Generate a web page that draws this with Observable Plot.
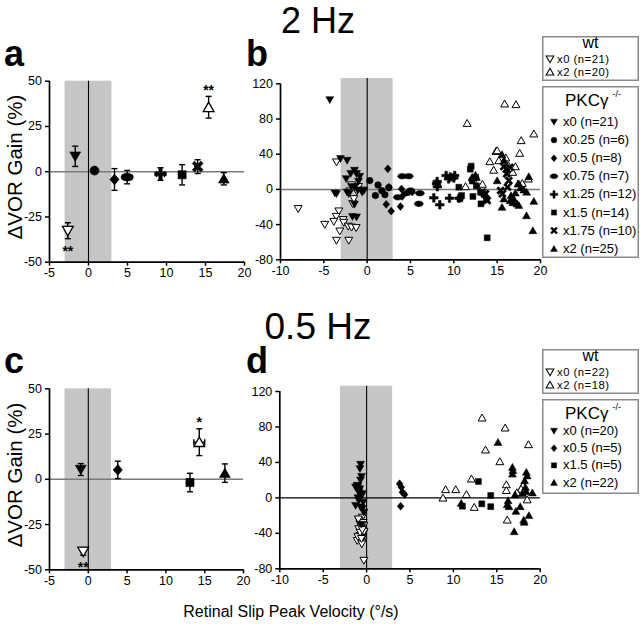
<!DOCTYPE html>
<html><head><meta charset="utf-8">
<script src="https://cdn.jsdelivr.net/npm/d3@7"></script>
<script src="https://cdn.jsdelivr.net/npm/@observablehq/plot@0.6"></script>
<style>
body{margin:0;background:#fff;}
#fig{position:relative;width:640px;height:628px;overflow:hidden;background:#fff;font-family:"Liberation Sans",Arial,Helvetica,sans-serif;}
</style></head>
<body><div id="fig"></div>
<script>
// ---------- DATA ----------
const bandX = [-3, 3];
const xTicksAC = [-5, 0, 5, 10, 15, 20];
const yTicksAC = [-50, -25, 0, 25, 50];
const xTicksBD = [-10, -5, 0, 5, 10, 15, 20];
const yTicksBD = [-80, -40, 0, 40, 80, 120];

// panel a (2 Hz, means ± SEM)
const aSeries = ["wt x0","PKC x0","PKC x0.25","PKC x0.5","PKC x0.75","PKC x1.25","PKC x1.5","PKC x1.75","wt x2","PKC x2"];
const aVel    = [-2.65, -1.7, 0.77, 3.33, 4.96, 9.23, 12.0, 14.0, 15.4, 17.35];
const aVelSem = [0.3, 0.3, 0.3, 0.3, 0.6, 0.5, 0.3, 0.4, 0.3, 0.3];
const aGain   = [-32.6, 8.5, 0.6, -4.3, -3.0, -1.3, -1.7, 2.8, 35.6, -3.9];
const aSem    = [4.4, 5.6, 1.5, 6.0, 3.7, 3.5, 5.6, 3.8, 6.0, 3.4];
const aStars  = [["wt x0","**"],["wt x2","**"]];

// panel c (0.5 Hz, means ± SEM)
const cSeries = ["wt x0","PKC x0","PKC x0.5","PKC x1.5","wt x2","PKC x2"];
const cVel    = [-0.66, -0.97, 3.8, 13.1, 14.3, 17.6];
const cVelSem = [0.3, 0.3, 0.3, 0.3, 0.7, 0.3];
const cGain   = [-39.9, 5.4, 5.2, -1.8, 20.5, 3.4];
const cSem    = [2.0, 3.3, 4.8, 5.1, 7.4, 5.1];
const cStars  = [["wt x0","**"],["wt x2","*"]];

// panel b (2 Hz, individual animals) [velocity, gain]
const b_wt_x0 = [[-7.96,-22],[-3.54,31],[-3.27,-24.7],[-3.57,-30.8],[-2.77,-34.5],[-3.85,-36.5],[-4.89,-39.9],[-2.7,-37.6],[-3.16,-47.5],[-3.54,-58],[-2.12,-58],[-2.19,-42],[-1.8,-43],[-1.27,-43.6],[-1.66,-16.4],[-1.54,-10.7],[-1.2,-2],[-2.0,-2],[-1.0,3],[-0.5,-1],[-1.8,5]];
const b_wt_x2 = [[15.86,97.3],[17.17,96.5],[11.54,75.2],[19.23,63.2],[17.77,55.6],[17.6,41.2],[14.87,43.4],[14.15,31.7],[15.19,32.8],[17.1,26],[16.8,19.6],[11.35,3.3],[15.0,44.2],[16.3,27],[18.6,12],[17.9,7],[12.3,10],[16.0,36],[14.6,22],[13.3,6]];
const b_pkc_x0 = [[-4.31,101.8],[-3.08,34.8],[-2.31,32.9],[-3.73,-4.2],[-3.54,-5],[-2.42,12],[-1.46,21.5],[-1.23,17.8],[-0.85,14.7],[-1.9,18],[-1.42,2.6],[-1.1,-1],[-2.12,-5],[-0.58,-3.3],[-0.38,-1.4],[-1.23,-31.5],[-1.7,-31],[-1.46,-17],[-2.31,-3.3],[-1.81,3],[-1.0,9]];
const b_pkc_x025 = [[0.3,10],[1.25,5],[0.95,-7],[1.7,-1.5],[2.05,-6],[2.5,2]];
const b_pkc_x05 = [[2.38,23.4],[2.2,-17],[2.77,-24.7],[3.96,0.5],[3.84,-19.4],[4.04,-8],[2.5,2.5],[5.2,-3]];
const b_pkc_x075 = [[4.04,15],[4.8,15],[5.96,-16.4],[5.0,-1.3],[6.08,-4.3],[3.54,-8.9],[4.54,-4.3]];
const b_pkc_x125 = [[7.69,-9.6],[8.38,-17.5],[9.5,-10],[8.0,6.4],[8.08,9],[9.11,15.8],[9.6,14],[10.1,15.8],[9.4,12],[10.6,-10],[8.1,3],[10.0,13]];
const b_pkc_x15 = [[12.0,26.4],[11.9,23],[10.58,2.5],[10.7,-10.7],[12.12,10],[12.2,-8],[13.08,-3.2],[13.13,-16.4],[13.77,-11.5],[13.85,-55],[12.5,13.9],[13.5,-6],[10.9,-7],[12.6,4]];
const b_pkc_x175 = [[13.65,-5],[13.85,-12.6],[15.4,-1.3],[16.1,17.7],[16.35,10],[16.2,2.6],[15.6,-5],[16.46,25],[15.77,26],[13.3,-3]];
const b_pkc_x2 = [[15.56,39.6],[15.0,10],[15.56,-20.2],[15.77,-10.7],[16.6,-7],[16.5,-12.7],[16.92,-10.7],[17.1,-4],[17.3,-16.4],[17.5,6.4],[17.5,-18],[17.4,6.4],[18.08,-0.5],[18.38,-29.7],[18.65,14.6],[18.4,-3],[19.23,-13.4],[19.12,-46.7],[16.1,23],[17.7,1.9],[12.1,13.7],[12.6,13.7],[12.5,16.3],[15.8,33],[16.8,-15]];

// panel d (0.5 Hz, individual animals)
const d_wt_x0 = [[-0.31,-70.6],[-0.5,-22],[-0.77,-29.2],[-0.31,-31],[-0.62,-37],[-0.77,-42.6],[-1.08,-48.2],[-0.5,-50],[-0.38,-40.7],[-0.6,-33],[-0.45,-45],[-0.9,-35],[-0.7,-48],[-0.3,-38],[-0.85,-26],[-0.55,-52],[-1.0,-44],[-0.4,-28],[-0.75,-39],[-0.6,-46],[-0.95,-24],[-0.5,-36]];
const d_wt_x2 = [[13.3,90.3],[15.96,79],[13.7,54.2],[18.65,60.2],[15.35,41],[12.08,21.5],[9.1,9.5],[10.27,9.5],[8.8,0],[12.4,-10.5],[16.1,15],[16.1,8.5],[16.2,-24.8],[18.0,13.8],[17.8,10],[17.3,6],[11.5,4],[18.5,-2]];
const d_pkc_x0 = [[-0.69,37.7],[-0.77,32.8],[-0.58,24],[-1.27,12],[-1.0,12.8],[-0.8,10],[-0.5,4.6],[-0.88,5.8],[-1.27,-8.7],[-0.69,-10.6],[-0.31,-16.3],[-0.9,8],[-1.1,14],[-0.6,2],[-0.4,-5],[-1.0,0],[-0.7,20],[-0.5,-12],[-0.9,-3],[-0.6,-30]];
const d_pkc_x05 = [[3.8,15.9],[4.0,12],[4.12,6.4],[4.38,3.8],[3.92,-9.4]];
const d_pkc_x15 = [[12.88,18.5],[14.3,2.7],[13.27,-6.7],[14.3,-9.9],[11.04,-9.4]];
const d_pkc_x2 = [[15.14,62.8],[16.8,34.6],[16.85,31],[16.8,27],[18.4,29],[18.5,25],[18.2,19.6],[18.3,12],[18.4,7],[19.1,5.8],[17.96,5],[17.1,3.5],[16.3,-3],[16.2,-7.5],[16.4,-9.7],[17.7,-9.7],[17.2,-15],[18.7,-19.8],[18.15,-27.4],[18.1,-25],[17.0,-37.9],[10.9,-6]];

// legends
const legB_wt  = [["wt x0","x0 (n=21)"],["wt x2","x2 (n=20)"]];
const legB_pkc = [["PKC x0","x0 (n=21)"],["PKC x0.25","x0.25 (n=6)"],["PKC x0.5","x0.5 (n=8)"],["PKC x0.75","x0.75 (n=7)"],["PKC x1.25","x1.25 (n=12)"],["PKC x1.5","x1.5 (n=14)"],["PKC x1.75","x1.75 (n=10)"],["PKC x2","x2 (n=25)"]];
const legD_wt  = [["wt x0","x0 (n=22)"],["wt x2","x2 (n=18)"]];
const legD_pkc = [["PKC x0","x0 (n=20)"],["PKC x0.5","x0.5 (n=5)"],["PKC x1.5","x1.5 (n=5)"],["PKC x2","x2 (n=22)"]];

// ---------- SYMBOLS ----------
const rOf = s => Math.sqrt(s / Math.PI);
function poly(c, pts){ c.moveTo(pts[0][0], pts[0][1]); for (const p of pts.slice(1)) c.lineTo(p[0], p[1]); c.closePath(); }
const triDown = {draw(c,s){const r=rOf(s)*1.2; poly(c,[[-r,-r*0.8],[r,-r*0.8],[0,r*0.95]]);}};
const triUp   = {draw(c,s){const r=rOf(s)*1.2; poly(c,[[-r,r*0.8],[r,r*0.8],[0,-r*0.95]]);}};
const circ    = {draw(c,s){const r=rOf(s); c.moveTo(r,0); c.arc(0,0,r,0,2*Math.PI);}};
const sq      = {draw(c,s){const r=rOf(s)*0.9; c.rect(-r,-r,2*r,2*r);}};
const dia     = {draw(c,s){const r=rOf(s)*1.2; poly(c,[[0,-r],[r*0.85,0],[0,r],[-r*0.85,0]]);}};
const ell     = {draw(c,s){const r=rOf(s), a=r*1.35, b=r*0.85, k=0.5523;
  c.moveTo(a,0); c.bezierCurveTo(a,b*k,a*k,b,0,b); c.bezierCurveTo(-a*k,b,-a,b*k,-a,0);
  c.bezierCurveTo(-a,-b*k,-a*k,-b,0,-b); c.bezierCurveTo(a*k,-b,a,-b*k,a,0); c.closePath();}};
function crossPts(L,t,rot){ const pts=[[t,-L],[t,-t],[L,-t],[L,t],[t,t],[t,L],[-t,L],[-t,t],[-L,t],[-L,-t],[-t,-t],[-t,-L]];
  const cs=Math.cos(rot), sn=Math.sin(rot); return pts.map(([x,y])=>[x*cs-y*sn, x*sn+y*cs]); }
const plusS  = {draw(c,s){const r=rOf(s); poly(c, crossPts(r*1.3, r*0.38, 0));}};
const timesS = {draw(c,s){const r=rOf(s); poly(c, crossPts(r*1.35, r*0.36, Math.PI/4));}};
const capH = {draw(c,s){const r=rOf(s); c.moveTo(-r,0); c.lineTo(r,0);}};
const capV = {draw(c,s){const r=rOf(s); c.moveTo(0,-r); c.lineTo(0,r);}};

const S = {
  "wt x0": {sym: triDown, fill: "white", open: true},
  "wt x2": {sym: triUp, fill: "white", open: true},
  "PKC x0": {sym: triDown, fill: "black"},
  "PKC x0.25": {sym: circ, fill: "black"},
  "PKC x0.5": {sym: dia, fill: "black"},
  "PKC x0.75": {sym: ell, fill: "black"},
  "PKC x1.25": {sym: plusS, fill: "black"},
  "PKC x1.5": {sym: sq, fill: "black"},
  "PKC x1.75": {sym: timesS, fill: "black"},
  "PKC x2": {sym: triUp, fill: "black"}
};

// ---------- HELPERS ----------
const FONT = '"Liberation Sans", Arial, Helvetica, sans-serif';
const TICK_FS = 12.5;
const fig = document.getElementById("fig");
function place(el, left, top){ el.style.position="absolute"; el.style.left=left+"px"; el.style.top=top+"px"; fig.appendChild(el); }

function frameMarks({xDom, yDom, xTicks, yTicks, bandTop, zeroColor, zeroWidth}){
  return [
    Plot.rect([bandX], {x1: d=>d[0], x2: d=>d[1], y1: yDom[0], y2: bandTop, fill: "#c6c6c6"}),
    Plot.ruleY([0], {stroke: zeroColor, strokeWidth: zeroWidth}),
    Plot.ruleX([0], {y1: yDom[0], y2: bandTop, stroke: "black", strokeWidth: 1.1}),
    Plot.ruleX([xDom[0]], {y1: yDom[0], y2: yDom[1], stroke: "black", strokeWidth: 1.7}),
    Plot.ruleY([yDom[0]], {x1: xDom[0], x2: xDom[1], stroke: "black", strokeWidth: 1.7}),
    Plot.axisX({ticks: xTicks, tickSize: 4, tickPadding: 2, tickFormat: d=>String(d), label: null, strokeWidth: 1.5, fill: "black", fontSize: TICK_FS}),
    Plot.axisY({ticks: yTicks, tickSize: 4, tickPadding: 3.5, tickFormat: d=>String(d), label: null, strokeWidth: 1.5, fill: "black", fontSize: TICK_FS})
  ];
}

function meanMarks(series, vel, velSem, gain, sem, stars){
  const rows = series.map((s,i)=>({s, v: vel[i], ve: velSem[i], g: gain[i], e: sem[i]}));
  const marks = [
    Plot.ruleX(rows, {x: "v", y1: d=>d.g-d.e, y2: d=>d.g+d.e, stroke: "black", strokeWidth: 1.4}),
    Plot.ruleY(rows, {y: "g", x1: d=>d.v-d.ve, x2: d=>d.v+d.ve, stroke: "black", strokeWidth: 1.4}),
    Plot.dot(rows, {x: "v", y: d=>d.g+d.e, symbol: capH, r: 3, fill: "none", stroke: "black", strokeWidth: 1.4}),
    Plot.dot(rows, {x: "v", y: d=>d.g-d.e, symbol: capH, r: 3, fill: "none", stroke: "black", strokeWidth: 1.4}),
    Plot.dot(rows.filter(d=>d.ve>=0.5), {x: d=>d.v+d.ve, y: "g", symbol: capV, r: 3, fill: "none", stroke: "black", strokeWidth: 1.4}),
    Plot.dot(rows.filter(d=>d.ve>=0.5), {x: d=>d.v-d.ve, y: "g", symbol: capV, r: 3, fill: "none", stroke: "black", strokeWidth: 1.4})
  ];
  for (const key of series){
    const st = S[key];
    marks.push(Plot.dot(rows.filter(d=>d.s===key), {x: "v", y: "g", symbol: st.sym, r: 4.5, fill: st.fill, stroke: "black", strokeWidth: st.open ? 1.3 : 0.6}));
  }
  const starRows = stars.map(([k,t])=>({...rows.find(d=>d.s===k), t}));
  marks.push(Plot.text(starRows.filter(d=>d.g<0), {x: "v", y: d=>d.g-d.e, text: "t", dy: 12.5, fontSize: 14, fontWeight: "bold", fill: "black"}));
  marks.push(Plot.text(starRows.filter(d=>d.g>=0), {x: "v", y: d=>d.g+d.e, text: "t", dy: -6, fontSize: 14, fontWeight: "bold", fill: "black"}));
  return marks;
}

function scatterMarks(list){
  return list.map(([pts,key])=>{ const st=S[key];
    return Plot.dot(pts, {x: d=>d[0], y: d=>d[1], symbol: st.sym, r: 3.3, fill: st.fill, stroke: "black", strokeWidth: st.open ? 1 : 0.5}); });
}

const plotStyle = {fontFamily: FONT, fontSize: TICK_FS + "px", background: "transparent", overflow: "visible", color: "black"};

// ---------- PANEL A ----------
const domAC = {x: [-5, 20], y: [-50, 50]};
const pa = Plot.plot({
  width: 250, height: 230, marginLeft: 49, marginRight: 6, marginTop: 20.7, marginBottom: 28.3,
  style: plotStyle,
  x: {domain: domAC.x}, y: {domain: domAC.y},
  marks: [
    ...frameMarks({xDom: domAC.x, yDom: domAC.y, xTicks: xTicksAC, yTicks: yTicksAC, bandTop: domAC.y[1], zeroColor: "#7a7a7a", zeroWidth: 1.5}),
    ...meanMarks(aSeries, aVel, aVelSem, aGain, aSem, aStars)
  ]
});
place(pa, 0, 60);

// ---------- PANEL B ----------
const domBD = {x: [-10, 20], y: [-80, 120], bandTop: 126};
const pb = Plot.plot({
  width: 300, height: 230, marginLeft: 30, marginRight: 10, marginTop: 23.3, marginBottom: 30.7,
  style: plotStyle,
  x: {domain: domBD.x}, y: {domain: domBD.y},
  marks: [
    ...frameMarks({xDom: domBD.x, yDom: domBD.y, xTicks: xTicksBD, yTicks: yTicksBD, bandTop: domBD.bandTop, zeroColor: "#7a7a7a", zeroWidth: 1.5}),
    ...scatterMarks([[b_wt_x0,"wt x0"],[b_wt_x2,"wt x2"],[b_pkc_x025,"PKC x0.25"],[b_pkc_x05,"PKC x0.5"],[b_pkc_x075,"PKC x0.75"],[b_pkc_x125,"PKC x1.25"],[b_pkc_x15,"PKC x1.5"],[b_pkc_x175,"PKC x1.75"],[b_pkc_x2,"PKC x2"],[b_pkc_x0,"PKC x0"]])
  ]
});
place(pb, 250, 60);

// ---------- PANEL C ----------
const pc = Plot.plot({
  width: 250, height: 240, marginLeft: 49, marginRight: 7, marginTop: 28.3, marginBottom: 30.7,
  style: plotStyle,
  x: {domain: domAC.x}, y: {domain: domAC.y},
  marks: [
    ...frameMarks({xDom: domAC.x, yDom: domAC.y, xTicks: xTicksAC, yTicks: yTicksAC, bandTop: domAC.y[1], zeroColor: "#7a7a7a", zeroWidth: 1.5}),
    ...meanMarks(cSeries, cVel, cVelSem, cGain, cSem, cStars)
  ]
});
place(pc, 0, 360);

// ---------- PANEL D ----------
const pd = Plot.plot({
  width: 300, height: 240, marginLeft: 29.3, marginRight: 10.3, marginTop: 31, marginBottom: 31.7,
  style: plotStyle,
  x: {domain: domBD.x}, y: {domain: domBD.y},
  marks: [
    ...frameMarks({xDom: domBD.x, yDom: domBD.y, xTicks: xTicksBD, yTicks: yTicksBD, bandTop: domBD.bandTop, zeroColor: "black", zeroWidth: 1.1}),
    ...scatterMarks([[d_wt_x0,"wt x0"],[d_wt_x2,"wt x2"],[d_pkc_x05,"PKC x0.5"],[d_pkc_x15,"PKC x1.5"],[d_pkc_x2,"PKC x2"],[d_pkc_x0,"PKC x0"]])
  ]
});
place(pd, 250, 360);

// ---------- OVERLAY TEXT & LEGENDS ----------
const ov = d3.create("svg").attr("width", 640).attr("height", 628)
  .style("position","absolute").style("left","0px").style("top","0px").style("pointer-events","none")
  .style("font-family", FONT);
const T = (x,y,txt,size,opts={}) => ov.append("text").attr("x",x).attr("y",y).attr("font-size",size)
  .attr("text-anchor", opts.anchor||"start").attr("font-weight", opts.weight||"normal").attr("fill","black").text(txt);

T(318, 33, "2 Hz", 36, {anchor:"middle"});
T(318, 339, "0.5 Hz", 37, {anchor:"middle"});
T(4, 66, "a", 36, {weight:"bold"});
T(246, 66, "b", 36, {weight:"bold"});
T(4, 373, "c", 36, {weight:"bold"});
T(246, 373, "d", 36, {weight:"bold"});
ov.append("text").attr("transform","translate(22,167) rotate(-90)").attr("text-anchor","middle").attr("font-size",20.5).text("ΔVOR Gain (%)");
ov.append("text").attr("transform","translate(22,475) rotate(-90)").attr("text-anchor","middle").attr("font-size",20.5).text("ΔVOR Gain (%)");
T(291, 617, "Retinal Slip Peak Velocity (°/s)", 16, {anchor:"middle"});

function legend(x, y, w, h, kind, rows, cfg){
  const g = ov.append("g").attr("transform", `translate(${x},${y})`);
  g.append("rect").attr("x",0.75).attr("y",0.75).attr("width",w-1.5).attr("height",h-1.5).attr("fill","white").attr("stroke","#8a8a8a").attr("stroke-width",1.5);
  if (kind === "wt"){
    g.append("text").attr("x", w/2).attr("y", cfg.titleY).attr("text-anchor","middle").attr("font-size",16).text("wt");
  } else {
    const t = g.append("text").attr("x", 23).attr("y", cfg.titleY).attr("font-size",17);
    t.append("tspan").text("PKCγ");
    t.append("tspan").attr("dx", 4).attr("dy", -9).attr("font-size", 9).text("-/-");
  }
  rows.forEach(([key,label],i)=>{
    const yy = cfg.rowStart + i*cfg.rowStep;
    const st = S[key];
    g.append("path").attr("transform", `translate(${cfg.symX},${yy-4})`)
      .attr("d", d3.symbol(st.sym, Math.PI*cfg.symR*cfg.symR)())
      .attr("fill", st.fill).attr("stroke","black").attr("stroke-width", st.open?1.1:0.4);
    g.append("text").attr("x", cfg.textX).attr("y", yy).attr("font-size", cfg.fs)
      .attr("letter-spacing", cfg.ls || 0).text(label);
  });
}
legend(542, 36, 97, 45, "wt", legB_wt, {titleY: 12, rowStart: 27, rowStep: 13, symX: 8, textX: 15, symR: 3.2, fs: 11.3, ls: 0.5});
legend(542, 86, 97, 172, "pkc", legB_pkc, {titleY: 20, rowStart: 40, rowStep: 18.1, symX: 12, textX: 21, symR: 2.9, fs: 13});
legend(542, 349, 97, 45, "wt", legD_wt, {titleY: 12, rowStart: 27, rowStep: 13, symX: 8, textX: 15, symR: 3.2, fs: 11.3, ls: 0.5});
legend(542, 399, 97, 95, "pkc", legD_pkc, {titleY: 20, rowStart: 36, rowStep: 17.2, symX: 12, textX: 21, symR: 2.9, fs: 13});

fig.appendChild(ov.node());
</script>
</body></html>
